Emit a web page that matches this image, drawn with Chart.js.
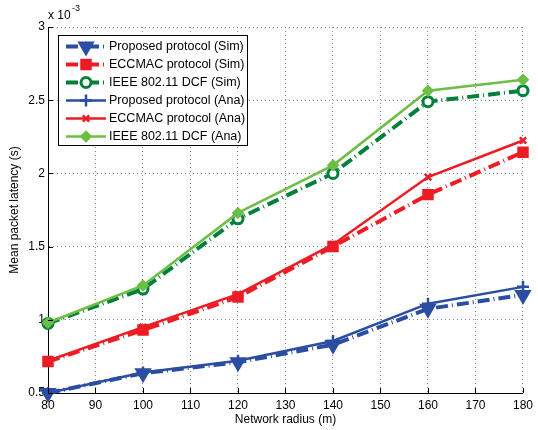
<!DOCTYPE html>
<html>
<head>
<meta charset="utf-8">
<script src="https://cdn.jsdelivr.net/npm/chart.js@4"></script>
<style>
  html, body { margin: 0; padding: 0; background: #fff; }
  #wrap { width: 538px; height: 430px; }
</style>
</head>
<body>
<div id="wrap"><canvas id="latencyChart" width="538" height="430"></canvas></div>
<script>
  // Data (latency in units of 1e-3 s)
  const radius = [80, 100, 120, 140, 160, 180];
  const proposedSim = [0.50, 0.635, 0.71, 0.83, 1.075, 1.17];
  const eccmacSim = [0.715, 0.93, 1.155, 1.50, 1.855, 2.145];
  const ieeeSim = [0.975, 1.21, 1.69, 2.0, 2.49, 2.565];
  const proposedAna = [0.50, 0.64, 0.72, 0.855, 1.11, 1.225];
  const eccmacAna = [0.72, 0.95, 1.175, 1.515, 1.975, 2.225];
  const ieeeAna = [0.98, 1.235, 1.73, 2.055, 2.565, 2.64];
  const yTicks = [0.5, 1, 1.5, 2, 2.5, 3];

  const BLUE = '#2B4EA2';
  const RED = '#ED1C24';
  const DKGREEN = '#00803A';
  const LTGREEN = '#6CBF45';
  const FONT = 'Arial, "Liberation Sans", sans-serif';

  function pts(vals) {
    return radius.map((r, i) => ({ x: r, y: vals[i] }));
  }

  function simSet(label, vals, color, style, r, fill) {
    return {
      label: label,
      data: pts(vals),
      borderColor: color,
      backgroundColor: fill,
      borderWidth: 4,
      borderDash: [12, 4, 1, 4],
      pointStyle: style,
      pointRadius: r,
      pointBorderWidth: 3,
      pointBorderColor: color,
      pointBackgroundColor: fill,
      pointRotation: style === 'triangle' ? 180 : 0,
      tension: 0,
      clip: false,
      order: 2
    };
  }

  function anaSet(label, vals, color, style, r) {
    return {
      label: label,
      data: pts(vals),
      borderColor: color,
      backgroundColor: color,
      borderWidth: 2.5,
      pointStyle: style,
      pointRadius: r,
      pointBorderWidth: 2.5,
      pointBorderColor: color,
      pointBackgroundColor: color,
      tension: 0,
      clip: false,
      order: 1
    };
  }

  const datasets = [
    simSet('Proposed protocol (Sim)', proposedSim, BLUE, 'triangle', 7, BLUE),
    simSet('ECCMAC protocol (Sim)', eccmacSim, RED, 'rect', 6, RED),
    simSet('IEEE 802.11 DCF (Sim)', ieeeSim, DKGREEN, 'circle', 5, '#ffffff'),
    anaSet('Proposed protocol (Ana)', proposedAna, BLUE, 'cross', 6),
    anaSet('ECCMAC protocol (Ana)', eccmacAna, RED, 'crossRot', 4.5),
    anaSet('IEEE 802.11 DCF (Ana)', ieeeAna, LTGREEN, 'rectRot', 4.5)
  ];

  // Legend box, exponent label and inward ticks drawn by hand (MATLAB style)
  const matlabExtras = {
    id: 'matlabExtras',
    afterDatasetsDraw(chart) {
      const ctx = chart.ctx;
      const xs = chart.scales.x, ys = chart.scales.y;
      const area = chart.chartArea;
      ctx.save();
      ctx.strokeStyle = '#000';
      ctx.lineWidth = 1;
      ctx.beginPath();
      xs.ticks.forEach(t => {
        const px = Math.round(xs.getPixelForValue(t.value)) + 0.5;
        ctx.moveTo(px, area.bottom);
        ctx.lineTo(px, area.bottom - 5);
      });
      ys.ticks.forEach(t => {
        const py = Math.round(ys.getPixelForValue(t.value)) + 0.5;
        ctx.moveTo(area.left, py);
        ctx.lineTo(area.left + 5, py);
      });
      ctx.stroke();
      ctx.restore();
    },
    afterDraw(chart) {
      const ctx = chart.ctx;
      ctx.save();
      // exponent
      ctx.fillStyle = '#000';
      ctx.textBaseline = 'middle';
      ctx.textAlign = 'left';
      ctx.font = '12px ' + FONT;
      ctx.fillText('x 10', 48, 16);
      ctx.font = '9px ' + FONT;
      ctx.fillText('-3', 72, 9);

      // legend
      const bx = 58.5, by = 35.5, bw = 189, bh = 110;
      ctx.fillStyle = '#fff';
      ctx.fillRect(bx, by, bw, bh);
      ctx.strokeStyle = '#000';
      ctx.lineWidth = 1;
      ctx.setLineDash([]);
      ctx.strokeRect(bx, by, bw, bh);

      chart.data.datasets.forEach((ds, i) => {
        const y = 46.5 + i * 18;
        ctx.save();
        ctx.strokeStyle = ds.borderColor;
        ctx.lineWidth = ds.borderWidth;
        ctx.setLineDash(ds.borderDash || []);
        ctx.beginPath();
        ctx.moveTo(66, y);
        ctx.lineTo(106, y);
        ctx.stroke();
        ctx.setLineDash([]);
        ctx.strokeStyle = ds.pointBorderColor;
        ctx.fillStyle = ds.pointBackgroundColor;
        ctx.lineWidth = ds.pointBorderWidth;
        Chart.helpers.drawPoint(ctx, {
          pointStyle: ds.pointStyle,
          rotation: ds.pointRotation || 0,
          radius: ds.pointRadius,
          borderWidth: ds.pointBorderWidth
        }, 86, y);
        ctx.restore();
        ctx.fillStyle = '#000';
        ctx.font = '12.5px ' + FONT;
        ctx.textAlign = 'left';
        ctx.textBaseline = 'middle';
        ctx.fillText(ds.label, 109, y);
      });
      ctx.restore();
    }
  };

  const ctx = document.getElementById('latencyChart').getContext('2d');
  const latencyChart = new Chart(ctx, {
    type: 'line',
    data: { datasets: datasets },
    options: {
      responsive: false,
      animation: false,
      layout: { padding: { left: 0, right: 10, top: 27, bottom: 0 } },
      plugins: {
        legend: { display: false },
        tooltip: { enabled: false }
      },
      scales: {
        x: {
          type: 'linear',
          min: 80,
          max: 180,
          afterFit: (scale) => { scale.height = 37; },
          ticks: {
            stepSize: 10,
            padding: 5,
            color: '#000',
            font: { size: 12, family: FONT }
          },
          grid: { color: '#8a8a8a', lineWidth: 1, drawTicks: false },
          border: { display: true, color: '#000', width: 1, dash: [1, 3] },
          title: {
            display: true,
            text: 'Network radius (m)',
            color: '#000',
            font: { size: 12, family: FONT },
            padding: { top: 0, bottom: 3 }
          }
        },
        y: {
          min: 0.5,
          max: 3,
          afterFit: (scale) => { scale.width = 48; },
          afterBuildTicks: (scale) => {
            scale.ticks = yTicks.map(v => ({ value: v }));
          },
          ticks: {
            padding: 3,
            color: '#000',
            font: { size: 12, family: FONT },
            callback: (v) => String(v)
          },
          grid: { color: '#8a8a8a', lineWidth: 1, drawTicks: false },
          border: { display: true, color: '#000', width: 1, dash: [1, 3] },
          title: {
            display: true,
            text: 'Mean packet latency (s)',
            color: '#000',
            font: { size: 12, family: FONT },
            padding: { top: 7, bottom: 6 }
          }
        }
      }
    },
    plugins: [matlabExtras]
  });
</script>
</body>
</html>
